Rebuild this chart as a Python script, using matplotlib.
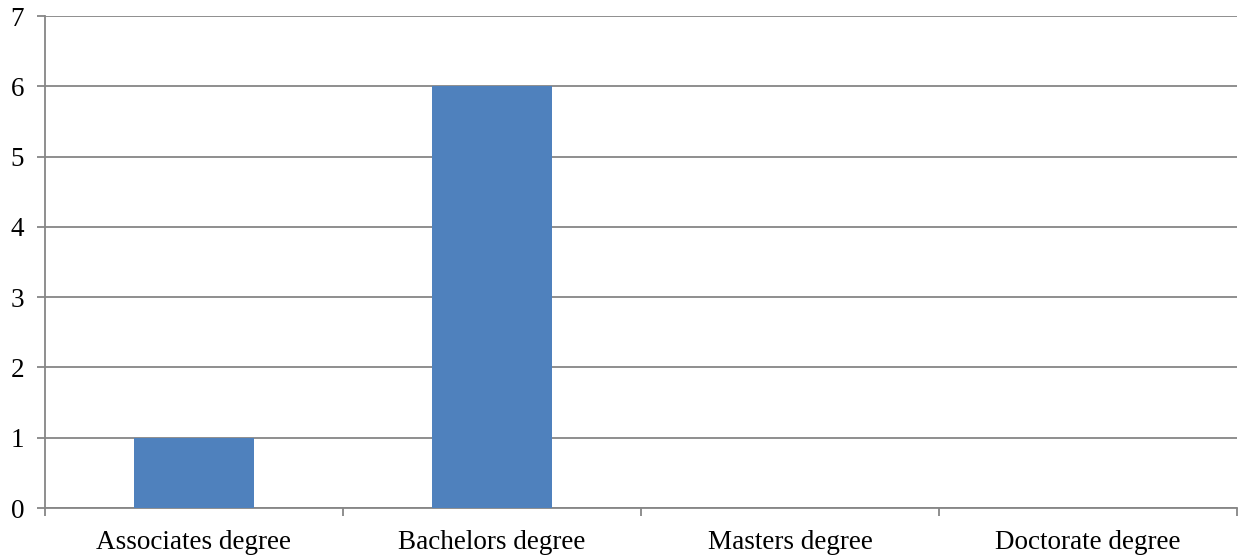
import matplotlib.pyplot as plt
import numpy as np

# Highest degree held
degrees = ['Associates degree', 'Bachelors degree', 'Masters degree', 'Doctorate degree']
counts = [1, 6, 0, 0]
y_ticks = [0, 1, 2, 3, 4, 5, 6, 7]

plt.rcParams['font.family'] = ['Liberation Serif', 'DejaVu Serif']

fig = plt.figure(figsize=(12.38, 5.56), dpi=100)
ax = fig.add_axes([45 / 1238, 1 - 508 / 556, 1192 / 1238, 492 / 556])

x = np.arange(len(degrees))
ax.bar(x, counts, width=0.4, color='#4F81BD', zorder=3)

grid_col = '#868686'
ax.set_xlim(-0.5, len(degrees) - 0.5)
ax.set_ylim(0, 7)
ax.set_yticks(y_ticks)
ax.set_yticklabels([str(v) for v in y_ticks], fontsize=19.5)
ax.yaxis.grid(True, color=grid_col, linewidth=1.3, zorder=0)

# category labels at centres, tick marks at the boundaries
ax.set_xticks(x)
ax.set_xticklabels(degrees, fontsize=19.5)
ax.tick_params(axis='x', which='major', length=0, pad=16)
ax.set_xticks(np.arange(len(degrees) + 1) - 0.5, minor=True)
ax.tick_params(axis='x', which='minor', length=6, width=1.3, color=grid_col)
ax.tick_params(axis='y', length=6, width=1.3, color=grid_col, pad=9)

for side in ['top', 'right']:
    ax.spines[side].set_visible(False)
for side in ['left', 'bottom']:
    ax.spines[side].set_color(grid_col)
    ax.spines[side].set_linewidth(1.3)

fig.savefig('out.png', dpi=100)
